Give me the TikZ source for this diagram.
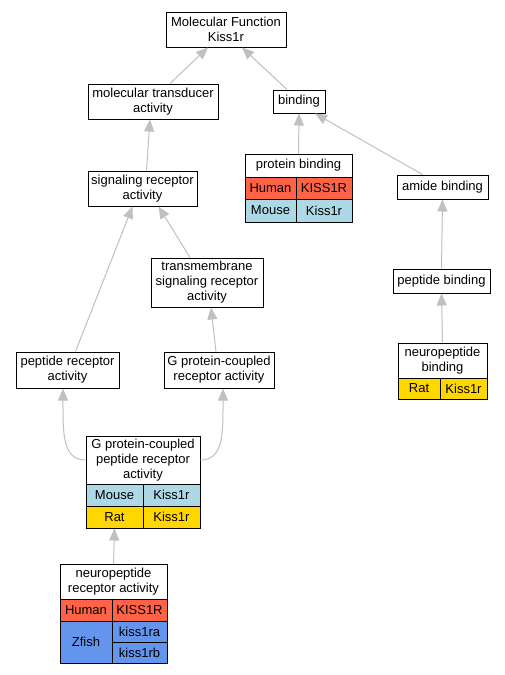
\documentclass[tikz,border=0pt]{standalone}
\usepackage{fontspec}
\setmainfont{Liberation Sans}
\usetikzlibrary{arrows.meta}
\definecolor{human}{HTML}{FF6347}
\definecolor{mouse}{HTML}{ADD8E6}
\definecolor{rat}{HTML}{FFD700}
\definecolor{zfish}{HTML}{6495ED}
\definecolor{edgegray}{HTML}{C0C0C0}
\begin{document}
\begin{tikzpicture}[x=1pt,y=-1pt,
  font=\fontsize{13}{15}\selectfont,
  term/.style={draw=black, line width=1pt, fill=white, inner sep=0pt, align=center},
  cell/.style={draw=black, line width=1pt, inner sep=0pt, align=center},
  edge/.style={draw=edgegray, line width=1pt, -{Triangle[length=12pt,width=10pt]}}]
\useasboundingbox (0,0) rectangle (505,675);
\fill[white] (0,0) rectangle (505,675);
% simple terms
\node[term, minimum width=120, minimum height=35] (MF) at (226,29.5) {Molecular Function\\Kiss1r};
\node[term, minimum width=130, minimum height=35] (MT) at (153,101.5) {molecular transducer\\activity};
\node[term, minimum width=52, minimum height=23] (BD) at (299,101.5) {binding};
\node[term, minimum width=109, minimum height=35] (SR) at (142.5,188.5) {signaling receptor\\activity};
\node[term, minimum width=91, minimum height=24] (AB) at (442.5,187) {amide binding};
\node[term, minimum width=112, minimum height=49] (TSR) at (207,282.5) {transmembrane\\signaling receptor\\activity};
\node[term, minimum width=97, minimum height=24] (PEB) at (441.5,281) {peptide binding};
\node[term, minimum width=103, minimum height=36] (PRA) at (67.5,370) {peptide receptor\\activity};
\node[term, minimum width=110, minimum height=36] (GPCR) at (219,370) {G protein-coupled\\receptor activity};
% protein binding table
\node[cell, fill=white, minimum width=107, minimum height=23] (PBh) at (298.5,165.5) {protein binding};
\node[cell, fill=human, minimum width=51, minimum height=22] (PBa1) at (270.5,188) {Human};
\node[cell, fill=human, minimum width=56, minimum height=22] (PBa2) at (324,188) {KISS1R};
\node[cell, fill=mouse, minimum width=51, minimum height=23] (PBb1) at (270.5,210.5) {Mouse};
\node[cell, fill=mouse, minimum width=56, minimum height=23] (PBb2) at (324,210.5) {Kiss1r};
% neuropeptide binding table
\node[cell, fill=white, minimum width=89, minimum height=35] (NBh) at (442.5,360.5) {neuropeptide\\binding};
\node[cell, fill=rat, minimum width=42, minimum height=21] (NBa1) at (419,388.5) {Rat};
\node[cell, fill=rat, minimum width=47, minimum height=21] (NBa2) at (463.5,388.5) {Kiss1r};
% G protein-coupled peptide receptor activity table
\node[cell, fill=white, minimum width=114, minimum height=48] (GPh) at (143,460) {G protein-coupled\\peptide receptor\\activity};
\node[cell, fill=mouse, minimum width=57, minimum height=22] (GPa1) at (114.5,495) {Mouse};
\node[cell, fill=mouse, minimum width=57, minimum height=22] (GPa2) at (171.5,495) {Kiss1r};
\node[cell, fill=rat, minimum width=57, minimum height=22] (GPb1) at (114.5,517) {Rat};
\node[cell, fill=rat, minimum width=57, minimum height=22] (GPb2) at (171.5,517) {Kiss1r};
% neuropeptide receptor activity table
\node[cell, fill=white, minimum width=107, minimum height=35] (NRh) at (113.5,581.5) {neuropeptide\\receptor activity};
\node[cell, fill=human, minimum width=52, minimum height=22] (NRa1) at (86,610) {Human};
\node[cell, fill=human, minimum width=55, minimum height=22] (NRa2) at (139.5,610) {KISS1R};
\node[cell, fill=zfish, minimum width=52, minimum height=42] (NRb1) at (86,642) {Zfish};
\node[cell, fill=zfish, minimum width=55, minimum height=21] (NRb2) at (139.5,631.5) {kiss1ra};
\node[cell, fill=zfish, minimum width=55, minimum height=21] (NRb3) at (139.5,652.5) {kiss1rb};
% edges
\draw[edge] ([xshift=17pt]MT.north) -- ([xshift=-18pt]MF.south);
\draw[edge] ([xshift=-12pt]BD.north) -- ([xshift=16pt]MF.south);
\draw[edge] (PBh.north) -- (BD.south);
\draw[edge] ([xshift=-20pt]AB.north) -- ([xshift=16pt]BD.south);
\draw[edge] ([xshift=4pt]SR.north) -- ([xshift=-3pt]MT.south);
\draw[edge] ([xshift=-17pt]TSR.north) -- ([xshift=16pt]SR.south);
\draw[edge] (PEB.north) -- (AB.south);
\draw[edge] (NBh.north) -- (PEB.south);
\draw[edge] ([xshift=8pt]PRA.north) -- ([xshift=-10pt]SR.south);
\draw[edge] ([xshift=-3pt]GPCR.north) -- ([xshift=4pt]TSR.south);
\draw[edge] (GPh.west) .. controls (62,460) and (63,432) .. ([xshift=-4.5pt]PRA.south);
\draw[edge] (GPh.east) .. controls (224,460) and (223,432) .. ([xshift=4pt]GPCR.south);
\draw[edge] (NRh.north) -- (GPb1.south);
\end{tikzpicture}
\end{document}
